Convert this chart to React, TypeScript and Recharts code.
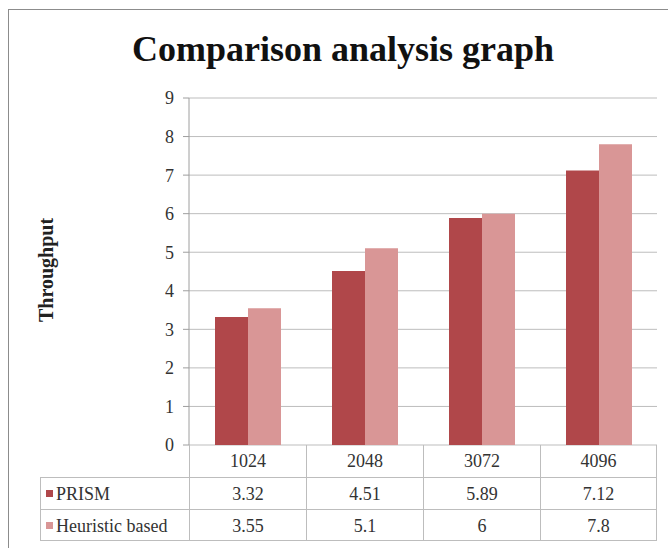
import React from 'react';
import { BarChart, Bar, XAxis, YAxis, CartesianGrid } from 'recharts';

const categories = ['1024', '2048', '3072', '4096'];
const prismValues = [3.32, 4.51, 5.89, 7.12];
const heuristicValues = [3.55, 5.1, 6, 7.8];
const yTicks = [0, 1, 2, 3, 4, 5, 6, 7, 8, 9];

const seriesNames = ['PRISM', 'Heuristic based'];
const seriesColors = ['#B0474A', '#D99696'];

const W = 668;
const H = 548;
const PLOT_LEFT = 189;
const PLOT_RIGHT = 657;
const PLOT_TOP = 98;
const PLOT_BOTTOM = 445;
const Y_AXIS_W = 40;
const ROW_H = 32;
const LABEL_LEFT = 40;

const font = '"Liberation Serif", "Times New Roman", serif';

const data = categories.map((c, i) => ({
  category: c,
  prism: prismValues[i],
  heuristic: heuristicValues[i],
}));

function DataTable() {
  const colW = (PLOT_RIGHT - PLOT_LEFT) / categories.length;
  const border = '1px solid #bdbdbd';
  const rows = [prismValues, heuristicValues];
  const cell: React.CSSProperties = {
    position: 'absolute',
    height: ROW_H,
    lineHeight: `${ROW_H}px`,
    textAlign: 'center',
    fontSize: 18,
    fontFamily: font,
    color: '#333',
    boxSizing: 'border-box',
  };
  return (
    <>
      {/* header row with categories */}
      {categories.map((c, i) => (
        <div
          key={c}
          style={{
            ...cell,
            left: PLOT_LEFT + i * colW,
            top: PLOT_BOTTOM,
            width: colW,
            borderLeft: border,
            borderRight: i === categories.length - 1 ? border : undefined,
          }}
        >
          {c}
        </div>
      ))}
      {rows.map((vals, r) => (
        <React.Fragment key={r}>
          <div
            style={{
              ...cell,
              left: LABEL_LEFT,
              top: PLOT_BOTTOM + ROW_H * (r + 1),
              width: PLOT_LEFT - LABEL_LEFT,
              textAlign: 'left',
              paddingLeft: 5,
              borderLeft: border,
              borderTop: border,
              borderBottom: r === rows.length - 1 ? border : undefined,
              whiteSpace: 'nowrap',
            }}
          >
            <span
              style={{
                display: 'inline-block',
                width: 7,
                height: 7,
                background: seriesColors[r],
                marginRight: 3,
                verticalAlign: 'middle',
                position: 'relative',
                top: -2,
              }}
            />
            {seriesNames[r]}
          </div>
          {vals.map((v, i) => (
            <div
              key={i}
              style={{
                ...cell,
                left: PLOT_LEFT + i * colW,
                top: PLOT_BOTTOM + ROW_H * (r + 1),
                width: colW,
                borderLeft: border,
                borderTop: border,
                borderRight: i === vals.length - 1 ? border : undefined,
                borderBottom: r === rows.length - 1 ? border : undefined,
              }}
            >
              {v}
            </div>
          ))}
        </React.Fragment>
      ))}
    </>
  );
}

export default function App() {
  return (
    <div
      style={{
        position: 'absolute',
        left: 0,
        top: 0,
        width: W,
        height: H,
        background: '#fff',
        fontFamily: font,
        overflow: 'hidden',
      }}
    >
      {/* outer chart frame */}
      <div
        style={{
          position: 'absolute',
          left: 8,
          top: 9,
          width: W,
          height: H,
          border: '1px solid #8c8c8c',
          boxSizing: 'border-box',
        }}
      />
      <div
        style={{
          position: 'absolute',
          top: 28,
          left: 0,
          width: 686,
          textAlign: 'center',
          fontSize: 36,
          fontWeight: 'bold',
          color: '#111',
          whiteSpace: 'nowrap',
        }}
      >
        Comparison analysis graph
      </div>
      <div
        style={{
          position: 'absolute',
          left: 46,
          top: 270,
          transform: 'translate(-50%, -50%) rotate(-90deg)',
          fontSize: 20,
          fontWeight: 'bold',
          color: '#222',
          whiteSpace: 'nowrap',
        }}
      >
        Throughput
      </div>
      <div style={{ position: 'absolute', left: 0, top: 0 }}>
        <BarChart
          width={W}
          height={H}
          data={data}
          margin={{
            top: PLOT_TOP,
            right: W - PLOT_RIGHT,
            bottom: H - PLOT_BOTTOM,
            left: PLOT_LEFT - Y_AXIS_W,
          }}
          barGap={0}
        >
          <CartesianGrid vertical={false} stroke="#bdbdbd" />
          <XAxis dataKey="category" hide />
          <YAxis
            width={Y_AXIS_W}
            domain={[0, 9]}
            ticks={yTicks}
            interval={0}
            tickSize={6}
            tickMargin={9}
            axisLine={{ stroke: '#9e9e9e' }}
            tickLine={{ stroke: '#9e9e9e' }}
            tick={{ fill: '#333', fontSize: 18, fontFamily: font }}
          />
          <Bar dataKey="prism" name={seriesNames[0]} fill={seriesColors[0]} barSize={33} isAnimationActive={false} />
          <Bar dataKey="heuristic" name={seriesNames[1]} fill={seriesColors[1]} barSize={33} isAnimationActive={false} />
        </BarChart>
      </div>
      <DataTable />
    </div>
  );
}
